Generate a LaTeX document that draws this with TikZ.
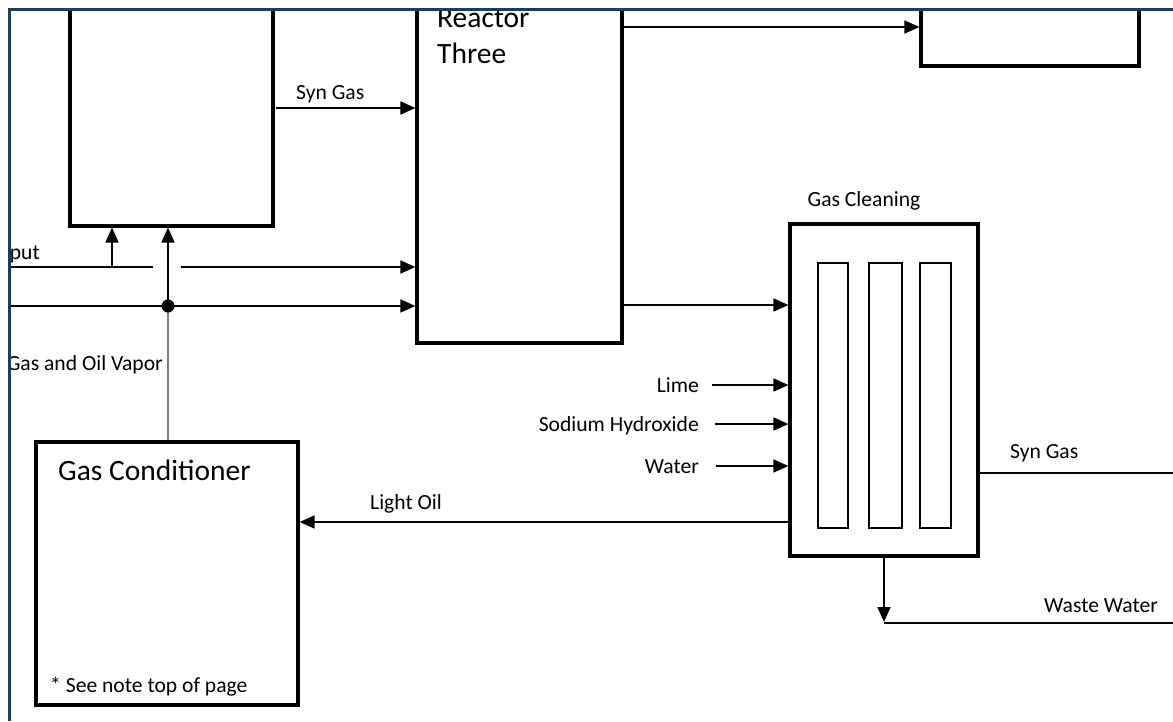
\documentclass[tikz,border=0pt]{standalone}
\usepackage{fontspec}
\setmainfont{Carlito}
\usetikzlibrary{arrows.meta}
\definecolor{navy}{HTML}{1F3864}
\tikzset{
  box/.style={draw=black, line width=3.2pt, inner sep=0pt, fill=white},
  inner/.style={draw=black, line width=2.8pt, inner sep=0pt},
  flow/.style={draw=black, line width=1.6pt},
  arr/.style={flow, -{Triangle[length=15pt,width=13pt]}},
  lbl/.style={font=\fontsize{21.6}{24}\selectfont, inner sep=0pt},
  big/.style={font=\fontsize{29.5}{36}\selectfont, inner sep=0pt, align=left},
}
\begin{document}
\begin{tikzpicture}[x=1pt,y=-1pt]
\useasboundingbox[fill=white] (0,0) rectangle (1173,721);
\begin{scope}
\clip (9,9) rectangle (1173,721);
% boxes
\node[box, minimum width=203pt, minimum height=246pt] (box1) at (171.5,103) {};
\node[box, minimum width=205pt, minimum height=363pt] (reactor) at (519.5,161.5) {};
\node[box, minimum width=218pt, minimum height=86pt] (box3) at (1030,23) {};
\node[box, minimum width=188pt, minimum height=332pt] (clean) at (884,390) {};
\node[inner, minimum width=30pt, minimum height=265pt] (in1) at (833,395.5) {};
\node[inner, minimum width=33pt, minimum height=265pt] (in2) at (885.5,395.5) {};
\node[inner, minimum width=31pt, minimum height=265pt] (in3) at (935.5,395.5) {};
\node[box, minimum width=262pt, minimum height=263pt] (cond) at (167,573.5) {};
% texts
\node[big, anchor=base west] (rtxt) at (437,63) {Reactor\\Three};
\node[big, anchor=base west] (ctxt) at (58,480) {Gas Conditioner};
\node[lbl, anchor=base west] (note) at (50,692) {* See note top of page};
\node[lbl, anchor=base east] (input) at (40,259) {Input};
\node[lbl, anchor=base east] (gov) at (163,370) {Gas and Oil Vapor};
\node[lbl, anchor=base west] (syn1) at (296,99) {Syn Gas};
\node[lbl, anchor=base] (gcl) at (864,206) {Gas Cleaning};
\node[lbl, anchor=base east] (lime) at (699,392) {Lime};
\node[lbl, anchor=base east] (naoh) at (699,431) {Sodium Hydroxide};
\node[lbl, anchor=base east] (water) at (699,473) {Water};
\node[lbl, anchor=base west] (loil) at (370,509) {Light Oil};
\node[lbl, anchor=base west] (syn2) at (1010,458) {Syn Gas};
\node[lbl, anchor=base west] (ww) at (1044,612) {Waste Water};
% coordinates
\coordinate (a0) at (9,267);
\coordinate (a1) at (112,267);
\coordinate (a2) at (153,267);
\coordinate (a3) at (181,267);
\coordinate (b0) at (9,306);
\coordinate (dot) at (168,306);
\coordinate (s0) at (276,108);
\coordinate (r0) at (622,27);
\coordinate (r1) at (622,305);
\coordinate (l0) at (712,385);
\coordinate (n0) at (715,424);
\coordinate (w0) at (716,466);
\coordinate (o0) at (790,522);
\coordinate (g0) at (978,473);
\coordinate (g1) at (1173,473);
\coordinate (d0) at (884,556);
\coordinate (d1) at (884,622);
\coordinate (d2) at (1173,623);
% connectors
\draw[flow] (a0) -- (a2);
\draw[arr] (a1) -- (a1 |- box1.south);
\draw[arr] (a3) -- (a3 -| reactor.west);
\draw[flow] (b0) -- (dot);
\draw[arr] (dot) -- (dot -| reactor.west);
\draw[flow, draw=gray] (cond.north -| dot) -- (dot);
\draw[arr] (dot) -- (dot |- box1.south);
\fill (dot) circle (6.5pt);
\draw[arr] (s0) -- (s0 -| reactor.west);
\draw[arr] (r0) -- (r0 -| box3.west);
\draw[arr] (r1) -- (r1 -| clean.west);
\draw[arr] (l0) -- (l0 -| clean.west);
\draw[arr] (n0) -- (n0 -| clean.west);
\draw[arr] (w0) -- (w0 -| clean.west);
\draw[arr] (o0) -- (o0 -| cond.east);
\draw[flow] (g0) -- (g1);
\draw[arr] (d0) -- (d1);
\draw[flow] (d1 |- d2) -- (d2);
\end{scope}
% frame
\draw[navy, line width=3pt] (9.5,721) -- (9.5,9.5) -- (1173,9.5);
\end{tikzpicture}
\end{document}
